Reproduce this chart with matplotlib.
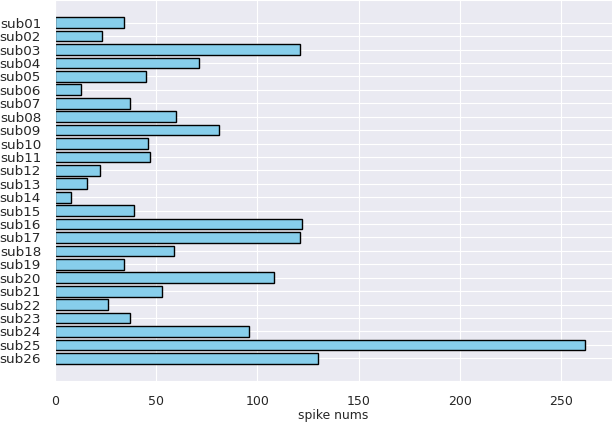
import matplotlib
matplotlib.use('Agg')
import matplotlib.pyplot as plt
import seaborn as sns

# nombres de spikes por sujeito
subjects = ['sub%02d' % i for i in range(1, 27)]
spike_nums = [34, 23, 121, 71, 45, 13, 37, 60, 81, 46, 47, 22, 16, 8, 39,
              122, 121, 59, 34, 108, 53, 26, 37, 96, 262, 130]

sns.set_style('darkgrid')
plt.rcParams['font.family'] = ['DejaVu Sans']

fig = plt.figure(figsize=(6.12, 4.24), dpi=100)
ax = fig.add_axes([55 / 612, 43 / 424, 557 / 612, 381 / 424])

ax.barh(subjects, spike_nums, color='skyblue', edgecolor='black', linewidth=1)
ax.invert_yaxis()

ax.set_xlabel('spike nums', fontsize=8.9, color='.15', labelpad=1)
ax.tick_params(axis='y', labelsize=9.7, pad=10, length=0, colors='.15')
ax.tick_params(axis='x', labelsize=9, pad=10, length=0, colors='.15')

fig.savefig('out.png', dpi=100)
